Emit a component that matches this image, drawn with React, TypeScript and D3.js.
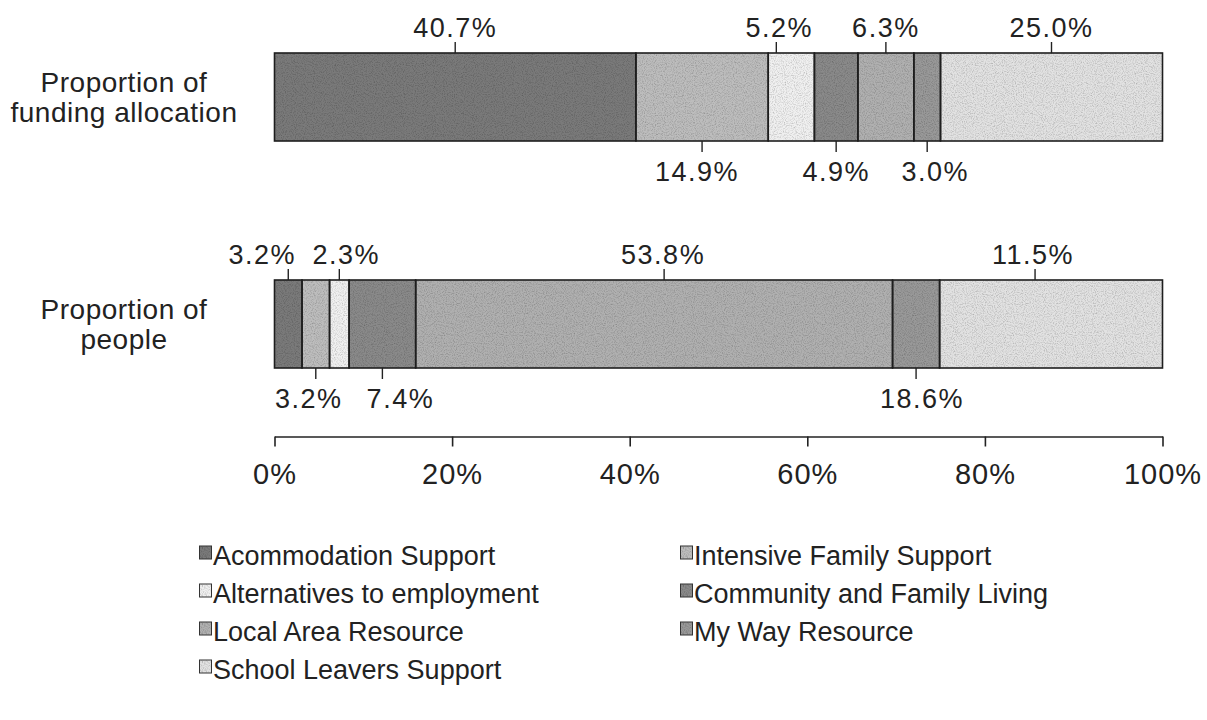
import React, { useEffect, useRef } from "react";
import * as d3 from "d3";

// categories (segments, left to right)
const categories = [
  "Acommodation Support",
  "Intensive Family Support",
  "Alternatives to employment",
  "Community and Family Living",
  "Local Area Resource",
  "My Way Resource",
  "School Leavers Support",
];

const rowIds = ["funding", "people"];
const rowNames = [
  ["Proportion of", "funding allocation"],
  ["Proportion of", "people"],
];

// segment widths as drawn (percent)
const fundingValues = [40.7, 14.9, 5.2, 4.9, 6.3, 3.0, 25.0];
const peopleValues = [3.1, 3.1, 2.2, 7.5, 53.7, 5.3, 25.1];

// printed labels
const fundingLabels = ["40.7%", "14.9%", "5.2%", "4.9%", "6.3%", "3.0%", "25.0%"];
const peopleLabels = ["3.2%", "3.2%", "2.3%", "7.4%", "53.8%", "18.6%", "11.5%"];

const axisTicks = [0, 20, 40, 60, 80, 100];

const greys = ["#7a7a7a", "#bdbdbd", "#f0f0f0", "#8a8a8a", "#b0b0b0", "#999999", "#e2e2e2"];

const FONT = "'Liberation Sans', Arial, Helvetica, sans-serif";

export default function App() {
  const ref = useRef<SVGSVGElement | null>(null);

  useEffect(() => {
    document.body.style.margin = "0";
    const svg = d3.select(ref.current);
    svg.selectAll("*").remove();

    const width = 1207;
    const margin = { left: 274.5, right: 44.5 };
    const barH = 88;

    // a little grain, the original is a halftone print
    const filt = svg.append("defs").append("filter").attr("id", "grain")
      .attr("x", 0).attr("y", 0).attr("width", 1).attr("height", 1);
    filt.append("feTurbulence").attr("type", "fractalNoise").attr("baseFrequency", 0.9)
      .attr("numOctaves", 2).attr("seed", 3).attr("result", "noise");
    filt.append("feColorMatrix").attr("in", "noise").attr("type", "matrix")
      .attr("values", "0 0 0 0 0  0 0 0 0 0  0 0 0 0 0  0 0 0 0.9 -0.38").attr("result", "specks");
    filt.append("feComposite").attr("in", "specks").attr("in2", "SourceGraphic").attr("operator", "in").attr("result", "sp");
    const merge = filt.append("feMerge");
    merge.append("feMergeNode").attr("in", "SourceGraphic");
    merge.append("feMergeNode").attr("in", "sp");

    let x = d3.scaleLinear().domain([0, 100]).range([margin.left, width - margin.right]);
    let y = d3.scalePoint<string>().domain(rowIds).range([97, 324]);
    let colour = d3.scaleOrdinal<string, string>().domain(categories).range(greys);

    // where the original moved a tick off the segment centre, and a label off its tick
    const tickNudge: Record<string, number> = { "funding-2": -15, "people-4": 10, "people-6": -16 };
    const textNudge: Record<string, number> = {
      "funding-1": -5, "funding-2": 3, "funding-5": 8,
      "people-0": -26, "people-1": -7, "people-2": 7, "people-3": 18, "people-4": -1, "people-5": 6, "people-6": -2,
    };

    const rows = [
      { id: "funding", values: fundingValues, labels: fundingLabels },
      { id: "people", values: peopleValues, labels: peopleLabels },
    ];

    rows.forEach((row, r) => {
      const top = (y(row.id) as number) - barH / 2;
      const bottom = top + barH;
      let cum = 0;
      const segs = row.values.map((v, i) => {
        const s = { i, x0: cum, x1: cum + v, label: row.labels[i], cat: categories[i] };
        cum += v;
        return s;
      });

      const g = svg.append("g");
      g.selectAll("rect")
        .data(segs)
        .enter()
        .append("rect")
        .attr("x", d => x(d.x0))
        .attr("y", top)
        .attr("width", d => x(d.x1) - x(d.x0))
        .attr("height", barH)
        .attr("fill", d => colour(d.cat))
        .attr("filter", "url(#grain)");
      g.selectAll("rect.edge")
        .data(segs)
        .enter()
        .append("rect")
        .attr("class", "edge")
        .attr("x", d => x(d.x0))
        .attr("y", top)
        .attr("width", d => x(d.x1) - x(d.x0))
        .attr("height", barH)
        .attr("fill", "none")
        .attr("stroke", "#1e1e1e")
        .attr("stroke-width", 1.6);

      segs.forEach(d => {
        const key = row.id + "-" + d.i;
        const cx = (x(d.x0) + x(d.x1)) / 2 + (tickNudge[key] || 0);
        const above = d.i % 2 === 0;
        g.append("line")
          .attr("x1", cx)
          .attr("x2", cx)
          .attr("y1", above ? top - 11 : bottom)
          .attr("y2", above ? top : bottom + 11)
          .attr("stroke", "#222")
          .attr("stroke-width", 1.4);
        g.append("text")
          .attr("x", cx + (textNudge[key] || 0))
          .attr("y", above ? top - 16 : bottom + 40)
          .attr("text-anchor", "middle")
          .attr("font-size", 27)
          .attr("letter-spacing", 1.5)
          .attr("fill", "#222")
          .text(d.label);
      });

      // row name
      const name = g.append("text")
        .attr("x", 124)
        .attr("text-anchor", "middle")
        .attr("font-size", 28)
        .attr("letter-spacing", 0.5)
        .attr("fill", "#222");
      rowNames[r].forEach((line, k) => {
        name.append("tspan")
          .attr("x", 124)
          .attr("y", (y(row.id) as number) - 5 + k * 30)
          .text(line);
      });
    });

    // x axis
    const axisY = 436.5;
    const ax = svg.append("g")
      .attr("transform", "translate(0," + axisY + ")")
      .call(d3.axisBottom(x).tickValues(axisTicks).tickSize(10).tickSizeOuter(0).tickFormat(d => d + "%"));
    ax.select(".domain").attr("stroke", "#222").attr("stroke-width", 1.6);
    ax.selectAll(".tick line").attr("stroke", "#222").attr("stroke-width", 1.6);
    ax.selectAll(".tick text")
      .attr("y", 0)
      .attr("dy", null)
      .attr("transform", "translate(0,47)")
      .attr("font-size", 29)
      .attr("letter-spacing", 1)
      .attr("font-family", FONT)
      .attr("fill", "#222");

    // legend, two columns filled row by row
    const legendCols = [199, 680];
    const legendRows = [565, 603, 641, 679];
    const lg = svg.append("g")
      .selectAll("g")
      .data(categories)
      .enter()
      .append("g")
      .attr("transform", (d, i) => "translate(" + legendCols[i % 2] + "," + legendRows[Math.floor(i / 2)] + ")");
    lg.append("rect")
      .attr("x", 0.5)
      .attr("y", -19)
      .attr("width", 12)
      .attr("height", 13)
      .attr("fill", d => colour(d))
      .attr("filter", "url(#grain)");
    lg.append("rect")
      .attr("x", 0.5)
      .attr("y", -19)
      .attr("width", 12)
      .attr("height", 13)
      .attr("fill", "none")
      .attr("stroke", "#333")
      .attr("stroke-width", 1);
    lg.append("text")
      .attr("x", 14)
      .attr("y", 0)
      .attr("font-size", 27)
      .attr("fill", "#222")
      .text(d => d);
  }, []);

  return (
    <svg ref={ref} width={1207} height={720} style={{ display: "block", background: "#fff", fontFamily: FONT }} />
  );
}
